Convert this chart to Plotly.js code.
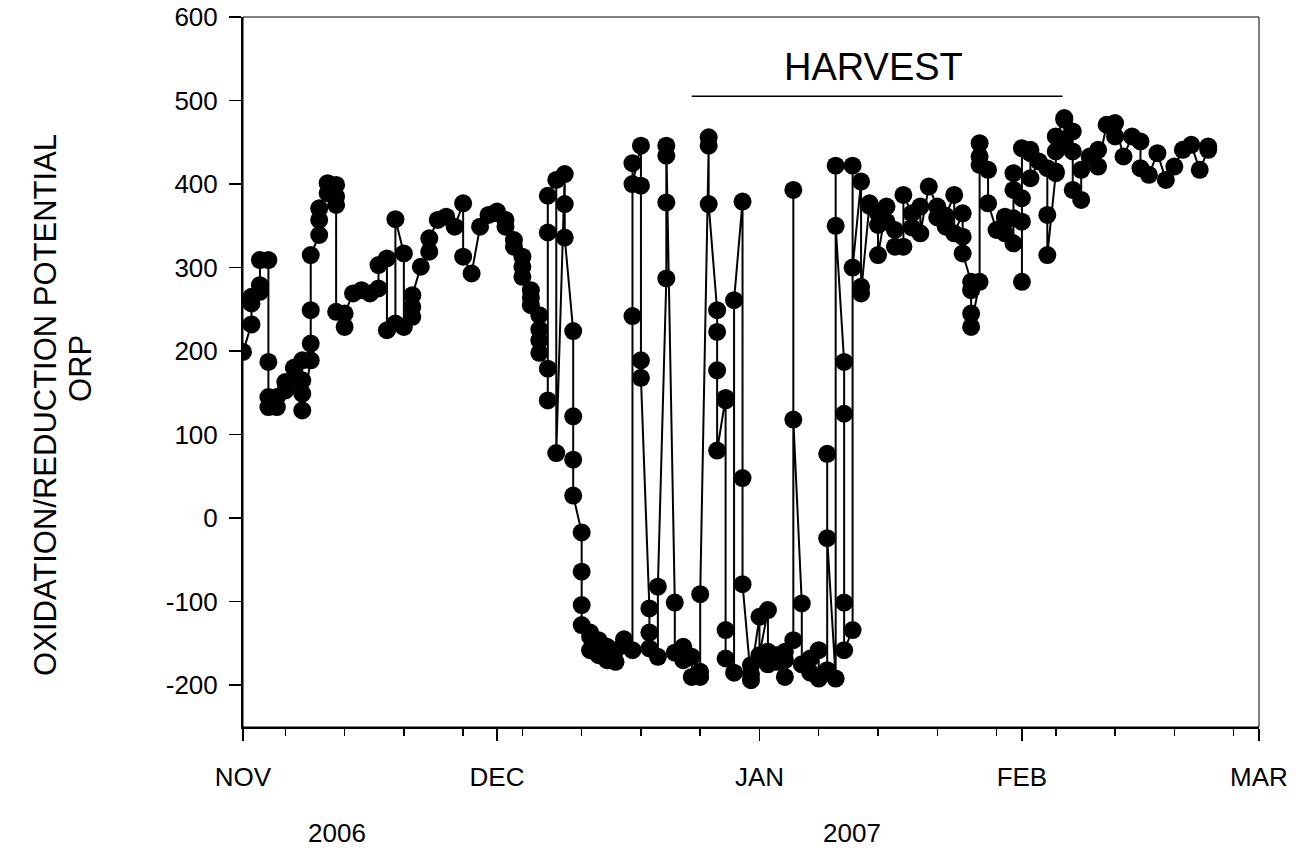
<!DOCTYPE html>
<html>
<head>
<meta charset="utf-8">
<script src="https://cdn.plot.ly/plotly-3.0.1.min.js"></script>
<style>
  html, body { margin: 0; padding: 0; background: #ffffff; }
  #chart { width: 1301px; height: 857px; }
</style>
</head>
<body>
<div id="chart"></div>
<script>
// ORP readings (mV), grouped by day of month; each inner list holds that day's readings in order.
const novReadings = [
  [199], [232, 257, 265], [271, 279, 309], [309, 187, 145, 133], [133, 145],
  [163, 153], [180, 165], [189, 165, 149, 129], [189, 209, 249, 315], [339, 357, 371],
  [389, 401], [399, 385, 375, 247], [229, 245], [269], [273],
  [269], [275, 303], [311, 225], [233, 358], [317, 229],
  [241, 253, 267], [301], [319, 335], [357], [361],
  [349], [377, 313], [293], [349], [363]
];
const decReadings = [
  [367, 365], [357, 349], [333, 325], [313, 301, 289], [273, 264, 255],
  [243, 226, 213, 198], [179, 141, 342, 386], [405, 78], [412, 376, 336], [224, 122, 70, 27],
  [-17, -64, -104, -128], [-137, -142, -158], [-164, -146], [-154, -170], [-172, -158],
  [-145, -152], [-158, 242, 425, 400], [446, 398, 189, 168], [-108, -137, -156], [-166, -82],
  [287, 378, 434, 446], [-101, -161], [-154, -170], [-166, -190], [-184, -190, -91],
  [446, 456, 376], [249, 223, 177, 81], [144, 141, -134, -168], [-185, 261], [379, 48, -79],
  [-194, -176, -187]
];
const janReadings = [
  [-118, -164], [-110, -160, -175], [-164, -172], [-160, -190, -170], [-146, 393, 118],
  [-102, -175], [-185, -168], [-158, -192], [-182, 77, -24], [-192, 422, 350],
  [187, 125, -101, -158], [-134, 422, 300], [403, 277, 269], [377, 374], [365, 351, 315],
  [373, 355], [345, 325], [325, 387], [365, 348], [373, 341],
  [397], [373, 360], [349, 362], [387, 341], [365, 337, 317],
  [283, 273, 245, 229], [283, 449, 433, 423], [417, 377], [345], [359, 361, 341],
  [359, 329, 413, 393]
];
const febReadings = [
  [383, 355, 283, 443], [437, 441, 407], [427], [419, 363, 315], [413, 415, 439, 457],
  [477, 479, 453], [463, 439, 393], [381, 417], [433], [441, 421],
  [471], [457, 473], [433], [457], [451, 419],
  [411], [437], [405], [421], [441],
  [447], [417], [441, 445]
];

const months = [
  { year: 2006, month: 11, readings: novReadings },
  { year: 2006, month: 12, readings: decReadings },
  { year: 2007, month: 1, readings: janReadings },
  { year: 2007, month: 2, readings: febReadings }
];

const monthTickVals = ['2006-11-01', '2006-12-01', '2007-01-01', '2007-02-01', '2007-03-01'];
const monthTickText = ['NOV', 'DEC', 'JAN', 'FEB', 'MAR'];
const yTickVals = [-200, -100, 0, 100, 200, 300, 400, 500, 600];
const yTickText = ['-200', '-100', '0', '100', '200', '300', '400', '500', '600'];

const harvestStart = '2006-12-24';
const harvestEnd = '2007-02-05 19:00';
const harvestLevel = 505;

const pad = n => String(n).padStart(2, '0');
const sampleDates = [];
const orp = [];
months.forEach(m => {
  m.readings.forEach((dayVals, i) => {
    const date = m.year + '-' + pad(m.month) + '-' + pad(i + 1);
    dayVals.forEach(v => { sampleDates.push(date); orp.push(v); });
  });
});

const FONT = 'Liberation Sans, Arial, Helvetica, sans-serif';

const trace = {
  x: sampleDates,
  y: orp,
  type: 'scatter',
  mode: 'lines+markers',
  line: { color: '#000000', width: 2 },
  marker: { color: '#000000', size: 18 },
  hoverinfo: 'x+y'
};

const layout = {
  width: 1301,
  height: 857,
  paper_bgcolor: '#ffffff',
  plot_bgcolor: '#ffffff',
  showlegend: false,
  margin: { l: 243, r: 42, t: 17, b: 130, pad: 0 },
  font: { family: FONT, color: '#000000' },
  xaxis: {
    type: 'date',
    range: ['2006-11-01', '2007-03-01'],
    tickmode: 'array',
    tickvals: monthTickVals,
    ticktext: monthTickText,
    ticks: 'outside',
    ticklen: 12,
    tickwidth: 1.5,
    tickcolor: '#000000',
    ticklabelstandoff: 14,
    tickfont: { family: FONT, size: 26, color: '#000000' },
    showline: true,
    linecolor: '#000000',
    linewidth: 2,
    showgrid: false,
    zeroline: false,
    minor: {
      tickmode: 'linear',
      tick0: '2006-11-06',
      dtick: 7 * 24 * 3600 * 1000,
      ticks: 'outside',
      ticklen: 7,
      tickwidth: 1.5,
      tickcolor: '#000000',
      showgrid: false
    }
  },
  yaxis: {
    range: [-250, 600],
    tickmode: 'array',
    tickvals: yTickVals,
    ticktext: yTickText,
    ticks: 'outside',
    ticklen: 12,
    tickwidth: 1.5,
    tickcolor: '#000000',
    ticklabelstandoff: 6,
    tickfont: { family: FONT, size: 26, color: '#000000' },
    showline: true,
    linecolor: '#000000',
    linewidth: 2,
    showgrid: false,
    zeroline: false
  },
  shapes: [
    {
      type: 'rect', xref: 'paper', yref: 'paper', x0: 0, x1: 1, y0: 0, y1: 1,
      line: { color: '#000000', width: 1 }, layer: 'below'
    },
    {
      type: 'line', xref: 'x', yref: 'y',
      x0: harvestStart, x1: harvestEnd, y0: harvestLevel, y1: harvestLevel,
      line: { color: '#000000', width: 1.5 }
    }
  ],
  annotations: [
    {
      text: 'HARVEST', xref: 'x', yref: 'y', x: '2007-01-14 10:00', y: 540,
      showarrow: false, font: { family: FONT, size: 38, color: '#000000' },
      xanchor: 'center', yanchor: 'middle'
    },
    {
      text: '2006', xref: 'paper', yref: 'paper', x: 0.0926, y: -0.149,
      showarrow: false, font: { family: FONT, size: 26, color: '#000000' },
      xanchor: 'center', yanchor: 'middle'
    },
    {
      text: '2007', xref: 'paper', yref: 'paper', x: 0.599, y: -0.149,
      showarrow: false, font: { family: FONT, size: 26, color: '#000000' },
      xanchor: 'center', yanchor: 'middle'
    },
    {
      text: 'OXIDATION/REDUCTION POTENTIAL', xref: 'paper', yref: 'paper',
      x: -0.195, y: 0.4535, textangle: -90,
      showarrow: false, font: { family: FONT, size: 31, color: '#000000' },
      xanchor: 'center', yanchor: 'middle'
    },
    {
      text: 'ORP', xref: 'paper', yref: 'paper',
      x: -0.1605, y: 0.5056, textangle: -90,
      showarrow: false, font: { family: FONT, size: 31, color: '#000000' },
      xanchor: 'center', yanchor: 'middle'
    }
  ]
};

Plotly.newPlot('chart', [trace], layout, { displayModeBar: false, staticPlot: true });
</script>
</body>
</html>
